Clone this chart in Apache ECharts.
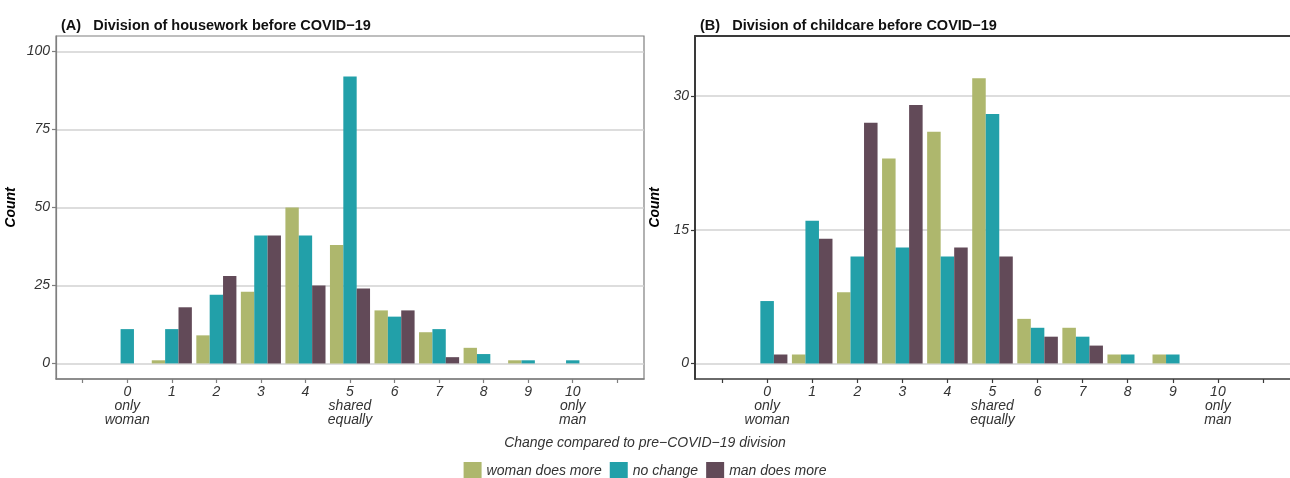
<!DOCTYPE html>
<html>
<head>
<meta charset="utf-8">
<script src="https://cdn.jsdelivr.net/npm/echarts@6/dist/echarts.min.js"></script>
<style>
  html, body { margin: 0; background: #fff; }
  #chart { width: 1290px; height: 478px; }
</style>
</head>
<body>
<div id="chart"></div>
<script>
// scores on the 0-10 scale and their labels
const scores = [0, 1, 2, 3, 4, 5, 6, 7, 8, 9, 10];
const xTickLabels = ['0\nonly\nwoman', '1', '2', '3', '4', '5\nshared\nequally', '6', '7', '8', '9', '10\nonly\nman'];
const xTicks = [-1, 0, 1, 2, 3, 4, 5, 6, 7, 8, 9, 10, 11];

const groups = ['woman does more', 'no change', 'man does more'];
const colors = ['#aeb76d', '#22a0a9', '#624a58'];

// (A) housework
const houseWoman = [0, 1, 9, 23, 50, 38, 17, 10, 5, 1, 0];
const houseSame  = [11, 11, 22, 41, 41, 92, 15, 11, 3, 1, 1];
const houseMan   = [0, 18, 28, 41, 25, 24, 17, 2, 0, 0, 0];
const houseYTicks = [0, 25, 50, 75, 100];

// (B) childcare
const careWoman = [0, 1, 8, 23, 26, 32, 5, 4, 1, 1, 0];
const careSame  = [7, 16, 12, 13, 12, 28, 4, 3, 1, 1, 0];
const careMan   = [1, 14, 27, 29, 13, 12, 3, 2, 0, 0, 0];
const careYTicks = [0, 15, 30];

const font = "'Liberation Sans', Arial, sans-serif";
const textColor = '#333';
const greyLine = '#7f7f7f';
const darkLine = '#3a3a3a';

function pairs(values) {
    return scores.map((s, i) => [s, values[i]]);
}

function xAxisFor(gridIndex, lineColor) {
    return {
        type: 'value',
        gridIndex: gridIndex,
        min: -1.6,
        max: 11.6,
        axisLine: { show: true, onZero: false, lineStyle: { color: lineColor, width: 1.5 } },
        axisTick: { show: true, customValues: xTicks, length: 4, lineStyle: { color: lineColor, width: 1.2 } },
        axisLabel: {
            customValues: scores,
            formatter: v => xTickLabels[scores.indexOf(v)],
            fontStyle: 'italic', fontSize: 14, color: textColor,
            lineHeight: 14, margin: 6, verticalAlign: 'top'
        },
        splitLine: { show: false }
    };
}

// plain top edge for panel B (no box on the right)
function topEdge(gridIndex, lineColor) {
    return {
        type: 'value',
        gridIndex: gridIndex,
        position: 'top',
        min: -1.6,
        max: 11.6,
        axisLine: { show: true, onZero: false, lineStyle: { color: lineColor, width: 2 } },
        axisTick: { show: false },
        axisLabel: { show: false },
        splitLine: { show: false }
    };
}

function yAxisFor(gridIndex, min, max, ticks, lineColor, lineWidth, nameGap) {
    return {
        type: 'value',
        gridIndex: gridIndex,
        min: min,
        max: max,
        name: 'Count',
        nameLocation: 'middle',
        nameGap: nameGap,
        nameTextStyle: { fontWeight: 'bold', fontStyle: 'italic', fontSize: 14, color: '#000' },
        axisLine: { show: true, onZero: false, lineStyle: { color: lineColor, width: lineWidth } },
        axisTick: { show: true, customValues: ticks, length: 4, lineStyle: { color: lineColor, width: 1.2 } },
        axisLabel: { customValues: ticks, fontStyle: 'italic', fontSize: 14, color: textColor, margin: 6 },
        splitLine: { show: true, lineStyle: { color: '#d2d2d2', width: 1.5 } }
    };
}

function barSeries(name, values, color, idx) {
    return {
        name: name,
        type: 'bar',
        xAxisIndex: idx,
        yAxisIndex: idx,
        data: pairs(values),
        barGap: '0%',
        barCategoryGap: '10%',
        itemStyle: { color: color },
        emphasis: { disabled: true }
    };
}

const chart = echarts.init(document.getElementById('chart'));
chart.setOption({
    animation: false,
    textStyle: { fontFamily: font },
    title: [
        { text: '(A)   Division of housework before COVID\u221219', left: 56, top: 13,
          textStyle: { fontSize: 14.5, fontWeight: 'bold', color: '#111' } },
        { text: '(B)   Division of childcare before COVID\u221219', left: 695, top: 13,
          textStyle: { fontSize: 14.5, fontWeight: 'bold', color: '#111' } },
        { text: 'Change compared to pre\u2212COVID\u221219 division', left: 'center', top: 431,
          textStyle: { fontSize: 14, fontWeight: 'normal', fontStyle: 'italic', color: textColor } }
    ],
    legend: {
        data: groups,
        left: 'center',
        top: 457,
        icon: 'rect',
        itemWidth: 18,
        itemHeight: 18,
        itemGap: 8,
        textStyle: { fontSize: 14, fontStyle: 'italic', color: textColor }
    },
    grid: [
        { left: 56, top: 36, width: 588, height: 343, show: true, borderColor: greyLine, borderWidth: 1.2 },
        { left: 695, top: 36, width: 598, height: 343, show: false }
    ],
    xAxis: [xAxisFor(0, greyLine), xAxisFor(1, darkLine), topEdge(1, darkLine)],
    yAxis: [
        yAxisFor(0, -5, 105, houseYTicks, greyLine, 1.2, 38),
        yAxisFor(1, -1.75, 36.75, careYTicks, darkLine, 2, 33)
    ],
    series: [
        barSeries(groups[0], houseWoman, colors[0], 0),
        barSeries(groups[1], houseSame, colors[1], 0),
        barSeries(groups[2], houseMan, colors[2], 0),
        barSeries(groups[0], careWoman, colors[0], 1),
        barSeries(groups[1], careSame, colors[1], 1),
        barSeries(groups[2], careMan, colors[2], 1)
    ]
});
</script>
</body>
</html>
